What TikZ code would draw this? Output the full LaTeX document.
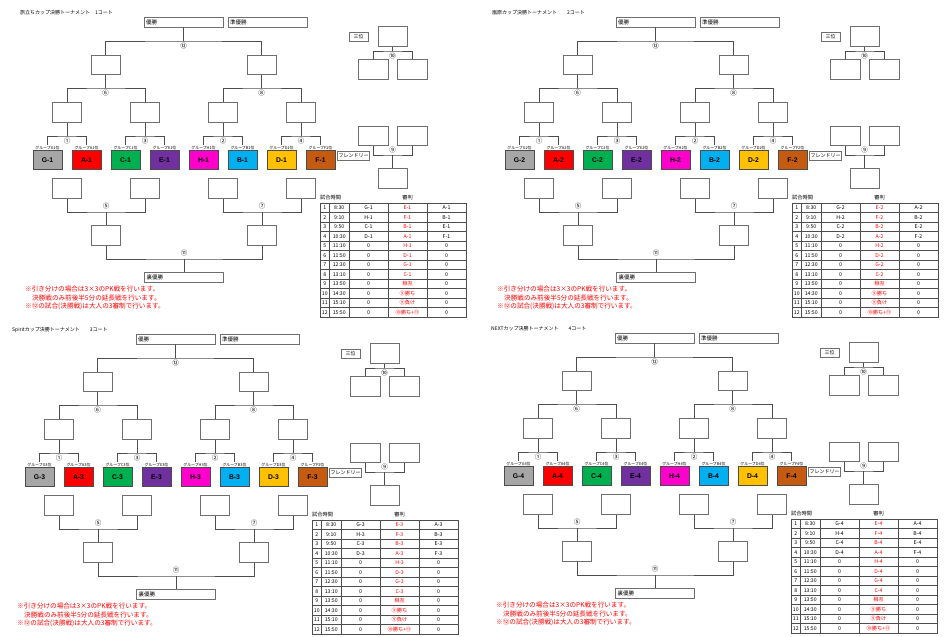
\documentclass[tikz,border=0pt]{standalone}
\usepackage{fontspec}
\setmainfont{Noto Sans CJK JP}
\newfontfamily\latinb{Liberation Sans}
\definecolor{lineg}{HTML}{4D4D4D}
\definecolor{boxg}{HTML}{6F6F6F}
\definecolor{cG}{HTML}{A6A6A6}
\definecolor{cA}{HTML}{FF0000}
\definecolor{cC}{HTML}{00B050}
\definecolor{cE}{HTML}{7030A0}
\definecolor{cH}{HTML}{FF00CC}
\definecolor{cB}{HTML}{00B0F0}
\definecolor{cD}{HTML}{FFC000}
\definecolor{cF}{HTML}{C55A11}
\definecolor{redtxt}{HTML}{FF0000}
\tikzset{
  br/.style={draw=lineg, line width=1pt},
  wbox/.style={draw=boxg, line width=1pt, minimum width=29pt, minimum height=19.5pt, inner sep=0pt},
  teambox/.style={draw=black!70, line width=0.8pt, minimum width=29pt, minimum height=19.5pt, inner sep=0pt, font=\latinb\fontsize{6.8}{7}\selectfont\bfseries},
  hbox/.style={draw=boxg, line width=0.9pt, minimum width=79pt, minimum height=10pt, inner sep=0pt, text width=75pt, align=left, font=\fontsize{5.5}{6}\selectfont},
  sbox/.style={draw=boxg, line width=0.8pt, minimum height=9pt, inner sep=1pt, font=\fontsize{5}{6}\selectfont},
  numlbl/.style={font=\fontsize{6.5}{7}\selectfont, inner sep=0pt, text=black},
  grplbl/.style={font=\fontsize{3.9}{4}\selectfont, inner sep=0pt},
  tcell/.style={font=\fontsize{5.2}{5.5}\selectfont, inner sep=0pt},
  notetxt/.style={anchor=west, font=\fontsize{6.6}{7}\selectfont, text=redtxt, inner sep=0pt},
  tline/.style={draw=lineg, line width=0.6pt},
}
\newcommand\quadrant[4]{%
\begin{scope}[shift={(#2,#3)}, name prefix=q#1-]
  \node[anchor=west, font=\fontsize{5}{6}\selectfont, inner sep=0pt] (title) at (20,13) {#4};
  % top
  \node[hbox] (win) at (183.5,22) {優勝};
  \node[hbox] (jun) at (267.5,22) {準優勝};
  \node[wbox] (s1) at (105.5,65) {};
  \node[wbox] (s2) at (261.5,65) {};
  \coordinate (jf) at (183.5,41);
  \draw[br] (win.south) -- (jf);
  \draw[br] (s1.north) |- (jf) -| (s2.north);
  \node[numlbl] (nf) at (183.5,46) {⑫};
  \coordinate (js1) at (105.5,88);
  \coordinate (js2) at (261.5,88);
  \draw[br] (s1.south) -- (js1);
  \draw[br] (s2.south) -- (js2);
  \node[numlbl] (ns1) at (105.5,93) {⑥};
  \node[numlbl] (ns2) at (261.5,93) {⑧};
  % teams
  \foreach \L/\c/\x [count=\i] in {G/cG/47.5,A/cA/86.5,C/cC/125.5,E/cE/164.5,H/cH/203.5,B/cB/242.5,D/cD/281.5,F/cF/320.5}{
    \node[teambox, fill=\c] (t\i) at (\x,160) {\L-#1};
    \node[grplbl] (g\i) at (\x,147.6) {グループ\L#1位};
  }
  % first round
  \foreach \i/\a/\b/\m/\x in {1/1/2/①/67,2/3/4/③/145,3/5/6/②/223,4/7/8/④/301}{
    \node[wbox] (w\i) at (\x,112.5) {};
    \coordinate (jw\i) at (\x,136);
    \draw[br] (w\i.south) -- (jw\i);
    \draw[br] ([yshift=5pt]t\a.north) |- (jw\i) -| ([yshift=5pt]t\b.north);
    \node[numlbl] (nw\i) at (\x,141) {\m};
    \node[wbox] (l\i) at (\x,188.5) {};
  }
  \draw[br] (w1.north) |- (js1) -| (w2.north);
  \draw[br] (w3.north) |- (js2) -| (w4.north);
  % losers bracket
  \node[wbox] (b1) at (106,235.5) {};
  \node[wbox] (b2) at (262,235.5) {};
  \coordinate (jl1) at (106,212);
  \coordinate (jl2) at (262,212);
  \draw[br] (l1.south) |- (jl1) -| (l2.south);
  \draw[br] (l3.south) |- (jl2) -| (l4.south);
  \draw[br] (jl1) -- (b1.north);
  \draw[br] (jl2) -- (b2.north);
  \node[numlbl] (nl1) at (106,206.5) {⑤};
  \node[numlbl] (nl2) at (262,206.5) {⑦};
  \node[hbox] (ura) at (184,277.5) {裏優勝};
  \coordinate (ju) at (184,259);
  \draw[br] (b1.south) |- (ju) -| (b2.south);
  \draw[br] (ju) -- (ura.north);
  \node[numlbl] (nu) at (184,253.5) {⑪};
  % notes
  \node[notetxt] (n1) at (25,289) {※引き分けの場合は3×3のPK戦を行います。};
  \node[notetxt] (n2) at (32,297.5) {決勝戦のみ前後半5分の延長戦を行います。};
  \node[notetxt] (n3) at (25,306) {※⑫の試合(決勝戦)は大人の3審制で行います。};
  % third place
  \node[sbox, minimum width=19pt] (sanni) at (358.5,36.5) {三位};
  \node[wbox] (p0) at (392.5,36.5) {};
  \node[wbox, minimum width=30pt] (p1) at (373,69.5) {};
  \node[wbox, minimum width=30pt] (p2) at (412,69.5) {};
  \coordinate (jp) at (392.5,51);
  \draw[br] (p0.south) -- (jp);
  \draw[br] (p1.north) |- (jp) -| (p2.north);
  \node[numlbl] (np) at (392.5,56) {⑩};
  % friendly
  \node[wbox, minimum width=30pt] (f1) at (373,136) {};
  \node[wbox, minimum width=30pt] (f2) at (412,136) {};
  \node[wbox] (f0) at (392.5,178.5) {};
  \coordinate (jfr) at (392.5,155);
  \draw[br] (f1.south) |- (jfr) -| (f2.south);
  \draw[br] (jfr) -- (f0.north);
  \node[numlbl] (nfr) at (392.5,150) {⑨};
  \node[sbox, minimum width=29pt] (friend) at (353.5,155.5) {フレンドリー};
  % table
  \node[tcell, anchor=west] (th1) at (320,198) {試合時間};
  \node[tcell] (th2) at (407.5,198) {審判};
  \draw[tline] (320,203) rectangle (466,317);
  \foreach \k in {1,...,11}{\draw[tline] (320,203+\k*9.5) -- (466,203+\k*9.5);}
  \foreach \xx in {329.5,349,388,427}{\draw[tline] (\xx,203) -- (\xx,317);}
  \foreach \tm/\ta/\rf/\tb [count=\i] in {8:30/G-#1/E-#1/A-#1,9:10/H-#1/F-#1/B-#1,9:50/C-#1/B-#1/E-#1,10:30/D-#1/A-#1/F-#1,11:10/0/H-#1/0,11:50/0/D-#1/0,12:30/0/G-#1/0,13:10/0/C-#1/0,13:50/0/相互/0,14:30/0/⑨勝ち/0,15:10/0/⑨負け/0,15:50/0/⑩勝ち+⑪/0}{
    \pgfmathsetmacro\yy{203+(\i-0.5)*9.5}
    \node[tcell] at (324.75,\yy) {\i};
    \node[tcell] at (339.25,\yy) {\tm};
    \node[tcell] at (368.5,\yy) {\ta};
    \node[tcell, text=redtxt] at (407.5,\yy) {\rf};
    \node[tcell] at (446.5,\yy) {\tb};
  }
\end{scope}}
\begin{document}
\begin{tikzpicture}[x=1pt,y=-1pt]
  \useasboundingbox[fill=white] (0,0) rectangle (945,637);
  \quadrant{1}{0}{0}{旅立ちカップ決勝トーナメント　1コート}
  \quadrant{2}{472}{0}{嵐原カップ決勝トーナメント　　2コート}
  \quadrant{3}{-8}{317}{Spiritカップ決勝トーナメント　　3コート}
  \quadrant{4}{471}{316}{NEXTカップ決勝トーナメント　　4コート}
\end{tikzpicture}
\end{document}
